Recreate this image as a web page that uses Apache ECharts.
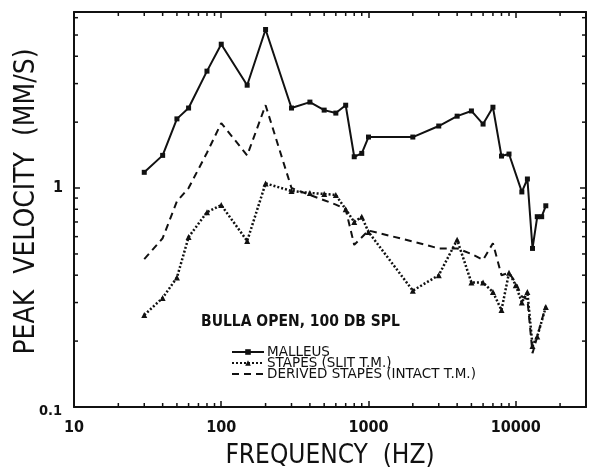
<!DOCTYPE html>
<html>
<head>
<meta charset="utf-8">
<title>Peak velocity</title>
<script src="https://cdn.jsdelivr.net/npm/echarts@6/dist/echarts.min.js"></script>
<style>
  html, body { margin: 0; padding: 0; background: #fff; }
  #chart { width: 600px; height: 472px; }
</style>
</head>
<body>
<div id="chart"></div>
<script>
// 频率 (Hz) 与峰值速度 (mm/s)
const malleusFreq = [30, 40, 50, 60, 80, 100, 150, 200, 300, 400, 500, 600, 700, 800, 900, 1000,
  2000, 3000, 4000, 5000, 6000, 7000, 8000, 9000, 11000, 12000, 13000, 14000, 15000, 16000]
const malleusVel = [1.18, 1.41, 2.07, 2.32, 3.42, 4.54, 2.95, 5.3, 2.32, 2.47, 2.27, 2.2, 2.39, 1.39, 1.44, 1.71,
  1.71, 1.92, 2.13, 2.25, 1.96, 2.34, 1.40, 1.43, 0.96, 1.1, 0.53, 0.74, 0.74, 0.83]

const stapesFreq = [30, 40, 50, 60, 80, 100, 150, 200, 300, 400, 500, 600, 700, 800, 900, 1000,
  2000, 3000, 4000, 5000, 6000, 7000, 8000, 9000, 10000, 11000, 12000, 13000, 14000, 16000]
const stapesVel = [0.263, 0.315, 0.39, 0.597, 0.776, 0.836, 0.573, 1.05, 0.97, 0.95, 0.94, 0.93, 0.8, 0.70, 0.74, 0.63,
  0.34, 0.40, 0.58, 0.37, 0.37, 0.335, 0.277, 0.41, 0.36, 0.30, 0.335, 0.19, 0.21, 0.286]

const derivedFreq = [30, 40, 50, 60, 80, 100, 150, 200, 300, 400, 500, 600, 700, 800, 1000,
  2000, 3000, 4000, 5000, 6000, 7000, 8000, 9000, 10000, 11000, 12000, 13000, 14000, 16000]
const derivedVel = [0.474, 0.59, 0.87, 1.0, 1.45, 1.98, 1.41, 2.39, 1.0, 0.93, 0.88, 0.84, 0.80, 0.55, 0.64,
  0.57, 0.53, 0.53, 0.50, 0.47, 0.56, 0.40, 0.41, 0.37, 0.32, 0.31, 0.176, 0.21, 0.29]

// 坐标轴范围与刻度
const xMin = 10
const xMax = 30000
const yMin = 0.1
const yMax = 6.37
const xLabels = [10, 100, 1000, 10000]
const yLabels = [0.1, 1]
const minorSteps = [2, 3, 4, 5, 6, 7, 8, 9]
const xDecades = [10, 100, 1000, 10000]
const yDecades = [0.1, 1]

const seriesNames = ['MALLEUS', 'STAPES (SLIT T.M.)', 'DERIVED STAPES (INTACT T.M.)']

const pairs = (xs, ys) => xs.map((x, i) => [x, ys[i]])
const minorX = []
xDecades.forEach(d => minorSteps.forEach(m => { if (m * d < xMax) minorX.push(+(m * d).toPrecision(6)) }))
const minorY = []
yDecades.forEach(d => minorSteps.forEach(m => { if (m * d < yMax) minorY.push(+(m * d).toPrecision(6)) }))

const narrow = "'Liberation Sans Narrow', 'DejaVu Sans Condensed', 'Liberation Sans', sans-serif"
const ink = '#111'

const isLabel = (v, list) => list.some(t => Math.abs(v - t) / t < 1e-6)

const tickStyle = { show: true, inside: true, length: 6, lineStyle: { color: ink, width: 1.5 } }
const lineStyle = { show: true, lineStyle: { color: ink, width: 2 } }

const chart = echarts.init(document.getElementById('chart'))
chart.setOption({
  animation: false,
  backgroundColor: '#fff',
  grid: { left: 74, right: 14, top: 12, bottom: 65, containLabel: false, outerBoundsMode: 'none' },
  title: {
    text: 'BULLA OPEN, 100 DB SPL',
    left: 201,
    top: 314,
    padding: 0,
    textStyle: { fontFamily: narrow, fontSize: 15.5, fontWeight: 'bold', color: ink }
  },
  legend: {
    data: [
      { name: seriesNames[0] },
      { name: seriesNames[1] },
      { name: seriesNames[2], itemStyle: { opacity: 0 } }
    ],
    orient: 'vertical',
    left: 231,
    top: 345,
    padding: 0,
    itemGap: -3,
    itemWidth: 32,
    itemHeight: 7,
    textStyle: { fontFamily: "'DejaVu Sans', sans-serif", fontSize: 13.5, lineHeight: 10, color: ink, padding: [0, 0, 0, -2] }
  },
  xAxis: [
    {
      type: 'log', logBase: 10, min: xMin, max: xMax, position: 'bottom',
      axisLine: lineStyle, axisTick: tickStyle, splitLine: { show: false },
      axisLabel: {
        margin: 13, color: ink, fontFamily: narrow, fontSize: 16, fontWeight: 'bold',
        formatter: v => isLabel(v, xLabels) ? String(Math.round(v)) : ''
      },
      name: 'FREQUENCY  (HZ)', nameLocation: 'middle', nameGap: 36, nameMoveOverlap: false,
      nameTextStyle: { fontFamily: narrow, fontSize: 26, color: ink }
    },
    {
      type: 'log', logBase: 10, min: xMin, max: xMax, position: 'top',
      axisLine: lineStyle, axisTick: tickStyle, axisLabel: { show: false }, splitLine: { show: false }
    }
  ],
  yAxis: [
    {
      type: 'log', logBase: 10, min: yMin, max: yMax, position: 'left',
      axisLine: lineStyle, axisTick: tickStyle, splitLine: { show: false },
      axisLabel: {
        margin: 11, color: ink, fontFamily: narrow, fontSize: 16, fontWeight: 'bold',
        formatter: v => {
          if (Math.abs(v - 0.1) < 1e-9) return '{low|0.1}'
          return isLabel(v, yLabels) ? String(v) : ''
        },
        rich: {
          low: { fontFamily: narrow, fontSize: 14.5, fontWeight: 'bold', color: ink, padding: [8, 1, 0, 0] }
        }
      },
      name: 'PEAK  VELOCITY  (MM/S)', nameLocation: 'middle', nameGap: 33, nameMoveOverlap: false,
      nameTextStyle: { fontFamily: narrow, fontSize: 28, color: ink, padding: [0, 0, 0, 16] }
    },
    {
      type: 'log', logBase: 10, min: yMin, max: yMax, position: 'right',
      axisLine: lineStyle, axisTick: tickStyle, axisLabel: { show: false }, splitLine: { show: false }
    }
  ],
  series: [
    {
      name: seriesNames[0], type: 'line', data: pairs(malleusFreq, malleusVel),
      symbol: 'rect', symbolSize: 5, color: ink,
      lineStyle: { color: ink, width: 2 }, itemStyle: { color: ink }
    },
    {
      name: seriesNames[1], type: 'line', data: pairs(stapesFreq, stapesVel),
      symbol: 'triangle', symbolSize: 6, color: ink,
      lineStyle: { color: ink, width: 2.5, type: [2, 2] }, itemStyle: { color: ink }
    },
    {
      name: seriesNames[2], type: 'line', data: pairs(derivedFreq, derivedVel),
      symbol: 'none', showSymbol: false, color: ink,
      lineStyle: { color: ink, width: 2, type: [7, 5] }
    },
    {
      // 对数轴次刻度（上下两边）
      type: 'custom', silent: true, clip: false, z: 5,
      data: minorX.map(v => [v, yMin]),
      encode: { x: 0, y: 1 },
      renderItem (params, api) {
        const v = api.value(0)
        const b = api.coord([v, yMin])
        const t = api.coord([v, yMax])
        const st = { stroke: ink, lineWidth: 1.5 }
        return {
          type: 'group',
          children: [
            { type: 'line', shape: { x1: b[0], y1: b[1], x2: b[0], y2: b[1] - 4 }, style: st },
            { type: 'line', shape: { x1: t[0], y1: t[1], x2: t[0], y2: t[1] + 4 }, style: st }
          ]
        }
      }
    },
    {
      // 对数轴次刻度（左右两边）
      type: 'custom', silent: true, clip: false, z: 5,
      data: minorY.map(v => [xMin, v]),
      encode: { x: 0, y: 1 },
      renderItem (params, api) {
        const v = api.value(1)
        const l = api.coord([xMin, v])
        const r = api.coord([xMax, v])
        const st = { stroke: ink, lineWidth: 1.5 }
        return {
          type: 'group',
          children: [
            { type: 'line', shape: { x1: l[0], y1: l[1], x2: l[0] + 4, y2: l[1] }, style: st },
            { type: 'line', shape: { x1: r[0], y1: r[1], x2: r[0] - 4, y2: r[1] }, style: st }
          ]
        }
      }
    }
  ]
})
</script>
</body>
</html>
